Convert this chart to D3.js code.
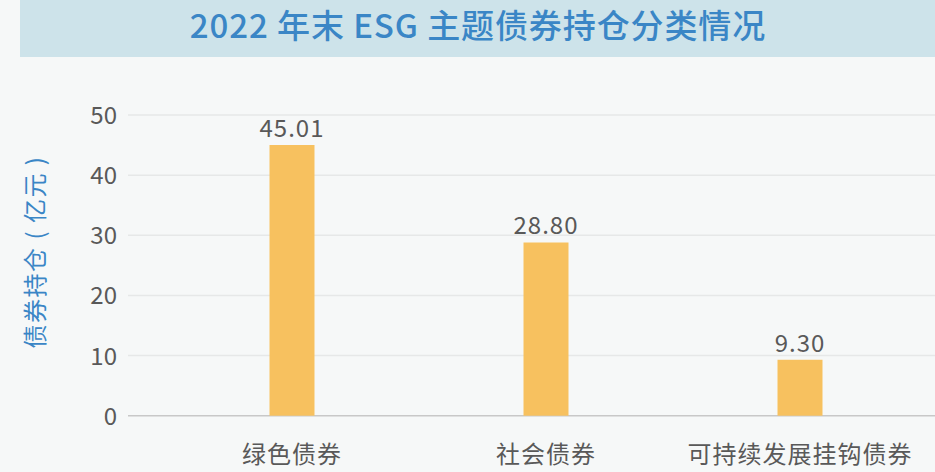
<!DOCTYPE html>
<html>
<head>
<meta charset="utf-8">
<script src="https://cdn.jsdelivr.net/npm/d3@7"></script>
<style>
  body { margin: 0; background: #f6f8f8; }
  svg { display: block; font-family: "Noto Sans CJK SC", "Noto Sans", sans-serif; }
</style>
</head>
<body>
<div id="chart"></div>
<script>
var categories = ['绿色债券', '社会债券', '可持续发展挂钩债券'];
var holdings = [45.01, 28.80, 9.30];
var yTicks = [0, 10, 20, 30, 40, 50];

var W = 935, H = 472;
var svg = d3.select('#chart').append('svg').attr('width', W).attr('height', H);

svg.append('rect').attr('width', W).attr('height', H).attr('fill', '#f6f8f8');

// title bar
svg.append('rect')
    .attr('x', 20).attr('y', 0)
    .attr('width', W - 20).attr('height', 57)
    .attr('fill', '#cde3ea');
svg.append('text')
    .attr('x', 478).attr('y', 38)
    .attr('text-anchor', 'middle')
    .attr('font-size', 33)
    .attr('font-weight', 500)
    .attr('letter-spacing', 0.9)
    .attr('fill', '#3a86c6')
    .text('2022 年末 ESG 主题债券持仓分类情况');

var y = d3.scaleLinear().domain([0, 50]).range([415.7, 115]);
var x = d3.scaleBand().domain(categories).range([165, 927]);
var barW = 45;

// grid
svg.append('g').selectAll('line')
    .data(yTicks.filter(d => d > 0))
    .enter().append('line')
    .attr('x1', 128).attr('x2', W)
    .attr('y1', d => y(d)).attr('y2', d => y(d))
    .attr('stroke', '#e6e8e8').attr('stroke-width', 1.5);

svg.append('line')
    .attr('x1', 128).attr('x2', W)
    .attr('y1', y(0)).attr('y2', y(0))
    .attr('stroke', '#c8c8c8').attr('stroke-width', 1.5);

// y tick labels
svg.append('g').selectAll('text')
    .data(yTicks)
    .enter().append('text')
    .attr('x', 117)
    .attr('y', d => y(d) + 9)
    .attr('text-anchor', 'end')
    .attr('font-size', 24)
    .attr('fill', '#595959')
    .text(d => d);

// bars
svg.append('g').selectAll('rect')
    .data(holdings)
    .enter().append('rect')
    .attr('x', (d, i) => x(categories[i]) + x.bandwidth() / 2 - barW / 2)
    .attr('y', d => y(d))
    .attr('width', barW)
    .attr('height', d => y(0) - y(d))
    .attr('fill', '#f7c15f');

// value labels
svg.append('g').selectAll('text')
    .data(holdings)
    .enter().append('text')
    .attr('x', (d, i) => x(categories[i]) + x.bandwidth() / 2)
    .attr('y', d => y(d) - 8)
    .attr('text-anchor', 'middle')
    .attr('font-size', 24)
    .attr('letter-spacing', 1)
    .attr('fill', '#595959')
    .text(d => d.toFixed(2));

// category labels
svg.append('g').selectAll('text')
    .data(categories)
    .enter().append('text')
    .attr('x', d => x(d) + x.bandwidth() / 2)
    .attr('y', 463)
    .attr('text-anchor', 'middle')
    .attr('font-size', 24)
    .attr('letter-spacing', 1)
    .attr('fill', '#595959')
    .text(d => d);

// y axis title
svg.append('text')
    .attr('transform', 'translate(44,252) rotate(-90)')
    .attr('text-anchor', 'middle')
    .attr('font-size', 24)
    .attr('letter-spacing', 1.5)
    .attr('fill', '#3a86c6')
    .text('债券持仓 ( 亿元 )');
</script>
</body>
</html>
